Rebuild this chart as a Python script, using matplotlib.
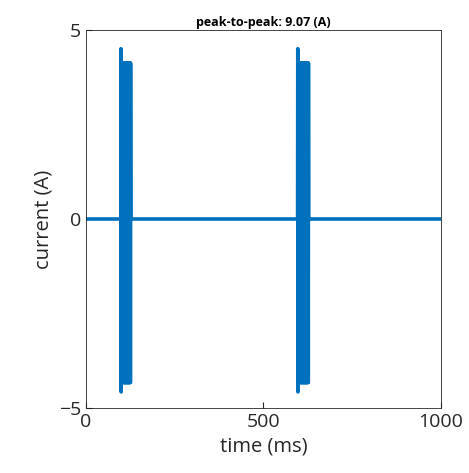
import numpy as np
import matplotlib.pyplot as plt

plt.rcParams['font.family'] = ['Open Sans', 'DejaVu Sans']

# values
burst_start = [99, 597]      # ms, first (spike) sample of each burst
burst_end = [126, 627]       # ms
spike_hi = [4.50, 4.50]      # A
spike_lo = [-4.57, -4.57]    # A
plateau_hi = [4.12, 4.12]
plateau_lo = [-4.32, -4.32]
dt = 0.5                     # ms sample step
t_end = 1000

t = np.arange(0, t_end + dt, dt)
i = np.zeros_like(t)
for k in range(len(burst_start)):
    idx = np.where((t >= burst_start[k]) & (t <= burst_end[k]))[0]
    sign = np.where(np.arange(len(idx)) % 2 == 0, 1, -1)
    vals = np.where(sign > 0, plateau_hi[k], plateau_lo[k])
    vals[:2] = [spike_hi[k], spike_lo[k]]
    i[idx] = vals

p2p = i.max() - i.min()

fig = plt.figure(figsize=(4.69, 4.73), dpi=100)
ax = fig.add_axes([0.183, 0.137, 0.757, 0.800])
ax.plot(t, i, color='#0072BD', lw=2.6)
ax.set_xlim(0, 1000)
ax.set_ylim(-5, 5)
ax.set_xticks([0, 500, 1000])
ax.set_yticks([-5, 0, 5])
ax.tick_params(direction='in', length=4, labelsize=14, colors='#262626')
for s in ax.spines.values():
    s.set_color('#262626')
    s.set_linewidth(0.6)
ax.set_xlabel('time (ms)', fontsize=14.5, color='#262626')
ax.set_ylabel('current (A)', fontsize=14.5, color='#262626')
ax.set_title('peak-to-peak: %.2f (A)' % p2p, fontsize=9, fontweight='bold', pad=3)
fig.savefig('out.png')
